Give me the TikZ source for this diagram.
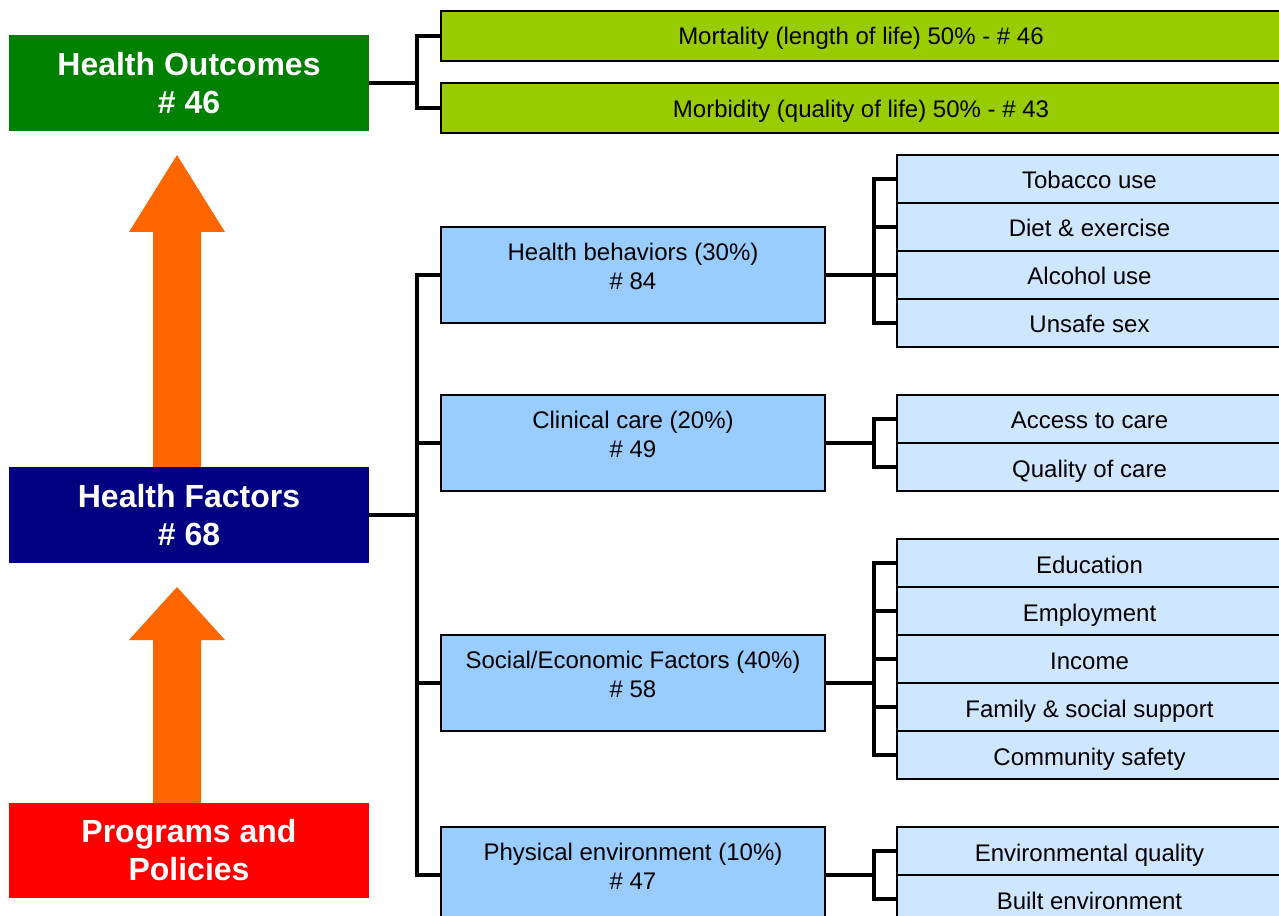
\documentclass[tikz,border=0pt]{standalone}
\usepackage{fontspec}
\setmainfont{Liberation Sans}
\definecolor{hogreen}{HTML}{008000}
\definecolor{hfnavy}{HTML}{000080}
\definecolor{ppred}{HTML}{FF0000}
\definecolor{arrorange}{HTML}{FF6600}
\definecolor{limeg}{HTML}{99CC00}
\definecolor{midblue}{HTML}{99CCFF}
\definecolor{lightblue}{HTML}{CFE6FF}
\begin{document}
\begin{tikzpicture}[x=0.75pt,y=-0.75pt,
  bigbox/.style={minimum width=270pt,minimum height=72pt,inner sep=0pt,text=white,
    font=\fontsize{24}{28.5}\selectfont\bfseries,align=center},
  outbox/.style={draw=black,line width=1.5pt,fill=limeg,minimum width=630pt,minimum height=37.5pt,
    inner sep=0pt,text height=16pt,text depth=2.5pt,font=\fontsize{18}{22}\selectfont},
  midbox/.style={draw=black,line width=1.5pt,fill=midblue,minimum width=288pt,minimum height=72pt,
    inner sep=0pt,align=center,font=\fontsize{18}{22}\selectfont},
  subbox/.style={draw=black,line width=1.5pt,fill=lightblue,minimum width=288.75pt,minimum height=36pt,
    inner sep=0pt,text height=17pt,text depth=2pt,font=\fontsize{18}{22}\selectfont},
  link/.style={line width=3pt,line join=miter},
  bigarrow/.style={fill=arrorange,draw=none}
]
\useasboundingbox (0,0) rectangle (1279,916);
\clip (0,0) rectangle (1279,916);

% big arrows
\fill[bigarrow] (177,155) -- (225,232) -- (201,232) -- (201,468) -- (153,468) -- (153,232) -- (129,232) -- cycle;
\fill[bigarrow] (177,587) -- (225,640) -- (201,640) -- (201,804) -- (153,804) -- (153,640) -- (129,640) -- cycle;

% left boxes
\node[bigbox,fill=hogreen] (HO) at (189,83) {Health Outcomes\\\# 46};
\node[bigbox,fill=hfnavy] (HF) at (189,515) {Health Factors\\\# 68};
\node[bigbox,fill=ppred,minimum height=71.25pt] (PP) at (189,850.5) {Programs and\\Policies};

% outcomes
\node[outbox] (o1) at (861,36) {Mortality (length of life) 50\% - \# 46};
\node[outbox] (o2) at (861,108.5) {Morbidity (quality of life) 50\% - \# 43};

% factors
\node[midbox] (m1) at (633,275) {Health behaviors (30\%)\\\# 84\\[-9pt]};
\node[midbox] (m2) at (633,443) {Clinical care (20\%)\\\# 49\\[-9pt]};
\node[midbox] (m3) at (633,683) {Social/Economic Factors (40\%)\\\# 58\\[-9pt]};
\node[midbox] (m4) at (633,875) {Physical environment (10\%)\\\# 47\\[-9pt]};

% sub factors
\node[subbox] (s11) at (1089.5,179) {Tobacco use};
\node[subbox] (s12) at (1089.5,227) {Diet \& exercise};
\node[subbox] (s13) at (1089.5,275) {Alcohol use};
\node[subbox] (s14) at (1089.5,323) {Unsafe sex};

\node[subbox] (s21) at (1089.5,419) {Access to care};
\node[subbox] (s22) at (1089.5,467) {Quality of care};

\node[subbox] (s31) at (1089.5,563) {Education};
\node[subbox] (s32) at (1089.5,611) {Employment};
\node[subbox] (s33) at (1089.5,659) {Income};
\node[subbox] (s34) at (1089.5,707) {Family \& social support};
\node[subbox] (s35) at (1089.5,755) {Community safety};

\node[subbox] (s41) at (1089.5,851) {Environmental quality};
\node[subbox] (s42) at (1089.5,899) {Built environment};

% connectors
\draw[link] (HO.east) -- ++(48,0) coordinate (hoj) |- (o1.west);
\draw[link] (hoj) |- (o2.west);

\draw[link] (HF.east) -- ++(48,0) coordinate (hfj) |- (m1.west);
\draw[link] (hfj) |- (m2.west);
\draw[link] (hfj) |- (m3.west);
\draw[link] (hfj) |- (m4.west);

\draw[link] (m1.east) -- ++(48,0) coordinate (j1) |- (s11.west);
\draw[link] (j1) |- (s12.west);
\draw[link] (j1) -- (s13.west);
\draw[link] (j1) |- (s14.west);

\draw[link] (m2.east) -- ++(48,0) coordinate (j2) |- (s21.west);
\draw[link] (j2) |- (s22.west);

\draw[link] (m3.east) -- ++(48,0) coordinate (j3) |- (s31.west);
\draw[link] (j3) |- (s32.west);
\draw[link] (j3) |- (s33.west);
\draw[link] (j3) |- (s34.west);
\draw[link] (j3) |- (s35.west);

\draw[link] (m4.east) -- ++(48,0) coordinate (j4) |- (s41.west);
\draw[link] (j4) |- (s42.west);
\end{tikzpicture}
\end{document}
